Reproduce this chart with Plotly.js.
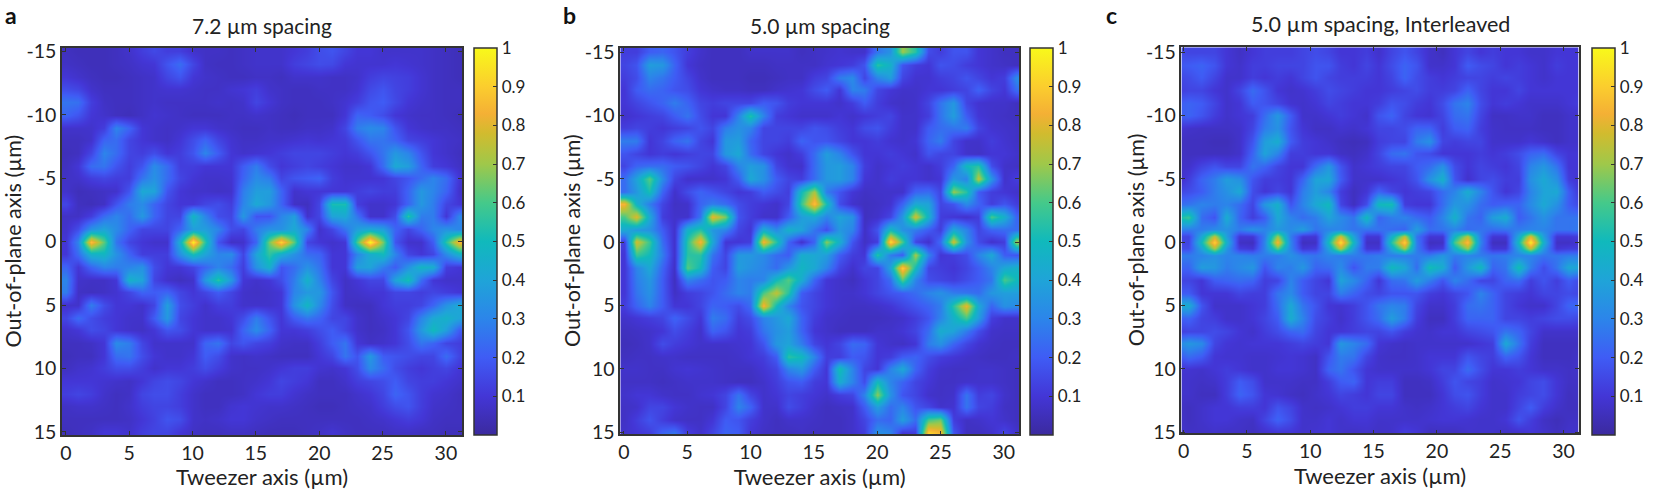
<!DOCTYPE html>
<html>
<head>
<meta charset="utf-8">
<script src="https://cdn.plot.ly/plotly-3.0.1.min.js"></script>
<style>
  html, body { margin: 0; padding: 0; background: #fff; }
  #chart { width: 1657px; height: 490px; }
</style>
</head>
<body>
<div id="chart"></div>
<script>
// intensity in percent on a 1 um grid. rows y = -15..15
const spacing72 = [
  [6,5,5,5,6,8,12,15,12,12,8,7,7,6,7,8,8,8,10,12,16,18,14,10,10,8,8,8,8,7,6,5],
  [7,6,5,5,6,7,9,10,18,24,14,7,6,6,7,8,8,8,12,14,16,15,10,9,9,9,10,9,8,7,6,5],
  [10,8,6,5,5,6,7,8,14,18,10,8,7,6,6,7,7,6,8,8,8,7,7,8,12,14,13,12,9,7,6,5],
  [16,14,8,6,6,6,7,8,9,9,8,7,7,9,10,12,8,7,6,6,7,7,7,9,15,18,14,12,9,7,6,6],
  [26,25,12,7,6,6,7,8,7,7,7,7,8,7,8,14,10,7,6,6,6,7,9,12,18,20,15,10,8,7,6,6],
  [22,18,10,8,6,5,7,9,8,7,6,6,6,7,7,8,7,6,5,6,6,6,10,22,20,16,10,8,7,7,6,5],
  [8,8,8,12,30,22,10,8,7,8,10,10,8,7,6,6,7,6,6,7,7,8,14,28,32,30,18,10,8,7,7,6],
  [6,6,8,22,24,14,10,8,7,10,16,22,14,9,7,7,8,8,9,10,9,10,11,18,26,26,22,14,12,10,8,7],
  [5,6,14,30,24,14,12,16,10,12,18,30,20,10,8,9,10,12,14,14,14,12,10,12,18,26,36,30,18,10,8,6],
  [6,10,24,26,18,12,18,32,24,12,12,10,10,10,20,28,16,10,12,14,12,10,8,8,10,24,42,38,22,12,10,7],
  [7,8,12,14,12,12,26,34,24,14,10,8,8,9,22,32,28,14,18,20,22,12,9,9,9,10,14,18,24,30,24,10],
  [8,5,6,7,8,18,42,40,18,10,8,8,7,8,28,38,38,22,8,10,10,10,10,12,14,12,12,22,36,30,22,8],
  [14,6,5,7,18,28,32,22,14,10,10,14,16,12,30,42,36,22,7,6,14,52,52,12,8,8,10,22,36,28,14,10],
  [7,7,12,24,30,24,36,22,14,14,48,30,16,14,36,18,18,30,38,8,14,40,42,26,8,8,16,55,28,28,10,30],
  [8,16,34,40,32,22,14,14,14,22,38,38,30,16,14,28,34,34,42,30,8,14,26,38,42,38,22,14,22,30,34,30],
  [10,30,88,62,26,14,10,8,8,45,98,55,18,7,8,22,65,92,62,14,10,8,10,60,100,65,18,8,8,20,55,85],
  [10,24,46,48,34,22,12,12,12,34,52,40,30,32,14,40,56,44,34,24,22,10,10,30,44,50,30,14,10,14,32,46],
  [22,10,22,30,28,30,34,16,10,10,14,22,30,24,12,34,46,18,24,34,26,10,10,38,40,28,20,34,48,44,12,10],
  [30,8,7,7,10,46,40,14,8,6,8,36,55,36,10,8,10,16,28,46,30,14,7,10,14,14,40,52,24,10,8,8],
  [28,7,6,7,9,14,22,20,22,14,10,14,20,14,8,7,8,10,30,36,36,18,7,8,10,10,14,14,12,14,12,10],
  [8,8,28,16,10,10,8,14,38,16,12,8,12,12,8,8,8,10,34,48,32,16,7,6,6,10,12,12,14,22,34,42],
  [14,24,16,12,10,8,8,20,36,14,10,8,8,10,16,28,18,10,20,26,22,14,14,8,6,8,10,14,30,42,46,40],
  [8,10,16,14,10,8,7,10,18,16,10,8,8,9,22,32,22,10,10,12,16,20,14,8,6,7,10,18,36,50,38,20],
  [6,6,7,10,32,28,14,8,8,8,8,22,26,14,18,14,12,8,7,7,12,20,26,10,7,8,10,16,26,22,14,12],
  [5,6,6,10,24,26,16,10,8,8,10,20,16,8,7,8,7,6,6,6,10,14,26,18,36,20,18,16,14,14,24,14],
  [6,8,9,12,16,16,12,8,10,10,12,16,12,8,7,7,8,10,12,12,9,8,10,16,32,24,16,12,10,12,14,10],
  [10,10,10,9,8,7,10,14,16,14,10,8,6,6,7,8,10,14,12,10,6,6,8,12,14,16,20,14,12,12,10,8],
  [12,14,12,8,6,7,14,16,16,12,8,6,6,6,7,10,12,12,9,7,6,6,6,8,10,14,22,18,12,9,8,6],
  [7,8,8,7,6,8,12,14,14,12,8,6,6,9,10,9,8,8,7,6,5,5,6,7,8,12,16,18,12,8,7,6],
  [6,6,6,6,6,7,10,13,18,16,8,7,8,10,10,8,7,6,6,6,6,6,6,6,7,8,10,12,10,7,6,6],
  [5,6,7,10,10,8,12,14,14,10,7,6,6,7,7,6,5,5,5,6,7,9,7,6,6,6,7,7,6,6,5,5]
];

const spacing50 = [
  [12,12,20,22,18,12,8,6,6,6,8,8,8,8,6,7,8,9,8,8,26,34,70,55,16,12,18,18,10,8,6,6],
  [14,18,38,36,22,10,7,6,6,6,6,6,7,7,7,7,9,10,12,18,55,46,18,12,10,18,16,12,10,8,7,6],
  [12,16,30,26,20,14,8,6,6,6,5,5,6,7,7,12,14,28,32,14,30,38,14,9,9,12,14,18,14,10,12,32],
  [10,20,24,22,18,16,10,8,7,7,6,6,8,9,10,16,20,10,30,28,14,10,8,8,10,10,12,14,22,14,10,24],
  [10,14,18,22,28,22,14,12,14,14,14,20,18,12,10,10,10,8,12,20,12,8,7,8,14,26,36,14,9,8,8,6],
  [8,10,12,14,20,26,16,10,10,30,54,30,12,10,8,8,8,10,8,10,12,14,8,8,12,26,38,20,10,8,7,6],
  [12,14,12,10,12,14,18,14,28,34,30,14,14,14,14,18,16,12,10,16,18,12,8,8,20,24,26,28,14,9,8,7],
  [28,28,10,14,22,26,14,10,36,38,22,14,14,12,22,18,18,14,10,10,12,9,8,10,22,28,14,8,8,12,9,7],
  [18,14,10,12,10,12,14,14,36,42,24,14,10,8,12,24,38,30,18,10,10,12,10,8,18,14,14,8,7,10,10,8],
  [14,22,24,24,20,18,14,10,14,30,38,34,14,9,8,24,36,38,30,12,8,10,12,10,8,12,22,50,55,16,8,7],
  [24,40,62,32,14,8,8,8,10,20,42,34,20,14,12,24,36,38,30,10,8,12,10,10,8,10,36,30,75,35,8,12],
  [24,36,52,22,8,16,22,18,14,10,12,20,16,12,50,72,28,18,10,7,8,8,8,22,24,14,70,55,20,12,10,8],
  [85,46,28,14,7,8,22,28,24,16,12,10,8,14,58,88,52,16,8,6,7,9,22,42,40,14,18,32,22,12,18,12],
  [60,80,42,12,8,8,26,82,66,18,12,8,8,20,38,42,30,40,34,6,8,14,36,78,46,12,10,8,12,60,45,22],
  [42,36,34,20,8,46,55,36,30,14,10,44,32,46,40,26,16,36,30,7,18,50,34,28,20,12,42,30,14,22,24,24],
  [12,78,58,24,8,55,85,42,10,10,12,85,55,22,8,22,68,45,18,7,12,95,60,14,8,24,78,34,16,8,12,72],
  [10,58,50,28,8,55,55,26,14,36,36,32,24,20,44,42,38,20,12,10,55,28,20,72,30,10,12,16,30,42,20,18],
  [10,30,42,22,7,62,50,20,14,38,34,30,24,36,48,42,30,14,8,14,14,40,92,50,14,12,10,14,20,30,42,46],
  [10,28,36,20,6,30,24,18,20,30,28,30,50,62,44,22,10,8,6,10,14,24,62,30,16,14,12,16,20,26,60,50],
  [10,26,34,20,7,12,14,18,24,30,28,60,75,55,20,14,10,8,8,10,14,18,20,24,30,34,28,26,24,36,38,38],
  [12,22,30,20,10,10,14,22,20,16,24,85,50,30,18,14,10,8,7,7,8,10,14,18,22,28,55,82,42,22,34,32],
  [8,10,12,14,22,16,10,28,24,12,16,30,36,42,22,12,8,7,6,6,6,7,8,12,18,30,46,60,38,12,8,8],
  [6,7,8,10,16,12,8,22,18,10,12,26,34,38,22,10,8,6,6,6,8,8,10,14,24,44,40,28,16,8,7,7],
  [5,6,8,16,12,10,8,8,8,9,10,18,36,40,28,14,10,14,24,22,10,8,7,10,28,34,22,14,9,7,6,6],
  [6,7,7,8,8,7,7,7,7,8,10,12,20,55,50,30,12,12,20,18,10,12,20,22,16,12,10,8,7,6,6,7],
  [8,8,7,7,9,10,9,8,7,7,7,10,14,30,36,20,10,52,30,14,10,30,42,22,12,8,7,7,8,8,7,6],
  [7,7,7,6,7,8,8,8,7,6,6,8,12,18,20,12,10,44,30,16,50,30,22,14,10,7,7,8,8,8,7,6],
  [8,10,10,8,7,7,9,10,14,26,14,8,10,14,12,10,8,12,14,30,68,34,18,14,8,7,8,26,12,14,8,6],
  [7,8,14,14,10,8,7,7,14,30,22,8,8,16,12,8,6,7,8,20,38,24,30,18,14,8,9,26,14,12,7,6],
  [7,12,18,12,8,7,7,10,20,18,12,8,6,8,8,7,6,6,8,14,24,22,38,24,60,65,12,7,8,10,8,6],
  [8,10,12,22,26,12,8,14,22,20,10,7,6,6,7,6,6,6,8,12,34,30,10,12,92,85,18,6,6,8,14,8]
];

// interleaved panel: columns start at x = -0.6 so the peaks sit on a column,
// extra rows at y = -0.5 and 0.5 for the narrow row of peaks
const interleaved = [
  [16,14,14,14,10,7,10,12,12,12,14,16,14,10,10,12,8,14,18,14,8,6,10,14,10,12,10,10,8,8,10,10,10],
  [18,20,22,18,10,8,12,12,14,14,14,18,18,12,10,14,10,16,22,18,8,8,10,20,16,14,10,12,10,8,12,10,10],
  [14,16,20,14,8,8,12,10,12,10,14,18,14,12,12,12,10,14,22,16,12,10,12,14,14,12,14,12,10,8,10,10,10],
  [12,14,14,10,8,14,24,18,10,8,9,12,16,14,12,10,10,12,14,16,12,12,14,22,14,10,10,14,10,10,10,10,10],
  [20,22,20,14,8,10,20,18,14,9,8,10,14,12,10,10,12,18,16,12,10,16,26,30,16,10,12,10,8,8,8,10,12],
  [20,22,18,12,8,10,12,24,36,20,8,8,10,12,10,8,18,22,14,10,9,14,24,26,14,7,7,8,8,6,6,8,8],
  [10,8,7,7,7,8,14,28,34,18,10,7,7,9,8,10,14,14,16,22,22,12,20,22,12,8,7,7,7,6,6,8,8],
  [6,6,6,5,5,8,18,38,44,20,12,10,8,6,5,6,12,14,14,28,34,14,12,14,14,8,8,8,10,8,6,8,8],
  [7,6,6,6,6,8,22,40,30,12,12,10,10,7,6,8,14,24,26,18,16,10,10,10,12,10,12,16,22,24,14,10,10],
  [7,8,14,18,14,14,26,22,14,10,10,24,36,18,8,10,12,14,14,20,24,34,16,10,14,12,10,14,30,36,26,10,10],
  [6,12,22,28,38,34,18,12,12,10,22,40,42,20,8,8,8,10,12,18,34,46,18,8,14,16,12,12,34,42,34,12,8],
  [14,16,20,28,34,42,16,10,14,10,28,38,30,12,6,10,22,14,10,12,14,24,30,44,30,18,10,14,30,40,42,20,8],
  [24,26,30,28,30,24,14,36,46,18,30,42,50,14,6,16,50,52,12,10,10,24,36,34,24,20,22,22,32,42,34,20,14],
  [50,58,24,18,44,22,12,20,42,30,24,28,40,32,26,50,22,28,30,24,20,30,46,26,22,38,44,20,26,34,26,26,26],
  [30,28,28,32,34,28,34,30,36,32,38,26,30,30,26,26,26,24,22,38,24,26,30,24,26,24,26,28,30,30,26,26,28],
  [14,14,42,75,38,10,10,28,70,28,10,10,42,78,40,10,10,45,75,26,10,10,48,74,28,10,10,42,80,38,10,10,12],
  [14,14,50,92,45,7,6,30,85,30,6,7,50,95,48,7,7,55,92,28,6,7,60,88,30,6,6,50,98,45,7,7,10],
  [16,16,40,72,36,12,10,30,62,30,10,12,40,75,38,10,10,42,72,28,10,12,46,70,26,10,10,40,76,36,10,12,12],
  [28,28,30,34,30,30,28,28,28,34,28,26,30,28,28,26,28,28,28,28,28,36,28,30,28,26,28,30,30,26,26,28,28],
  [22,22,38,36,28,32,36,18,30,28,36,22,24,32,18,28,28,50,42,24,52,44,20,36,50,22,26,52,28,16,26,42,40],
  [14,14,10,20,22,24,22,12,14,30,20,14,10,40,32,22,10,24,26,38,28,18,30,24,14,14,22,24,12,18,12,20,14],
  [20,20,10,10,10,14,12,12,26,32,20,14,14,28,22,16,14,18,18,18,12,10,14,18,30,22,14,12,10,14,14,16,14],
  [42,44,18,8,8,8,10,12,24,42,26,18,10,9,12,18,26,30,28,14,8,8,12,24,26,22,14,10,8,8,14,22,24],
  [20,22,14,12,8,8,10,14,20,44,30,16,12,8,12,18,24,38,28,12,6,6,12,22,22,22,14,14,12,14,16,16,14],
  [12,14,14,16,14,10,8,12,16,22,24,14,10,10,12,14,14,18,12,9,8,10,10,14,16,18,26,22,14,8,8,8,8],
  [30,36,32,14,10,9,10,10,10,12,14,12,10,36,30,24,10,8,7,8,8,8,8,8,10,12,42,26,12,6,6,6,6],
  [18,24,20,10,9,9,8,8,9,10,9,7,18,28,26,14,8,7,7,8,10,10,10,18,14,12,22,18,10,6,6,6,8],
  [9,9,8,10,12,10,8,8,10,10,9,7,22,26,18,10,8,8,8,8,10,14,14,24,16,10,10,12,10,8,8,7,8],
  [8,8,7,8,12,20,16,8,8,8,7,7,12,20,22,10,12,12,6,6,7,12,18,14,12,8,9,10,14,16,10,7,7],
  [8,8,6,6,12,22,18,10,9,7,6,8,10,14,12,10,14,14,6,6,6,10,16,18,12,8,8,12,14,16,10,6,7],
  [7,6,8,10,10,12,12,10,18,14,8,7,8,10,12,12,10,10,8,7,8,10,12,14,10,8,8,14,20,12,8,6,6],
  [8,6,8,10,10,8,7,14,22,16,8,8,10,8,10,10,8,8,8,8,9,10,10,9,8,8,10,18,12,7,5,7,7],
  [8,7,7,8,7,7,6,8,10,10,8,9,10,8,7,8,7,8,12,10,6,6,6,8,8,8,7,8,10,8,6,8,8]
];

const rowsFull = [-15,-14,-13,-12,-11,-10,-9,-8,-7,-6,-5,-4,-3,-2,-1,0,1,2,3,4,5,6,7,8,9,10,11,12,13,14,15];
const rowsInterleaved = [-15,-14,-13,-12,-11,-10,-9,-8,-7,-6,-5,-4,-3,-2,-1,-0.5,0,0.5,1,2,3,4,5,6,7,8,9,10,11,12,13,14,15];

const panelTitles = ["7.2 µm spacing", "5.0 µm spacing", "5.0 µm spacing, Interleaved"];
const panelLetters = ["a", "b", "c"];
const xTicks = [0, 5, 10, 15, 20, 25, 30];
const yTicks = [-15, -10, -5, 0, 5, 10, 15];
const yTickText = ["-15", "-10", "-5", "0", "5", "10", "15"];
const barTicks = [0.1, 0.2, 0.3, 0.4, 0.5, 0.6, 0.7, 0.8, 0.9, 1];
const barTickText = ["0.1", "0.2", "0.3", "0.4", "0.5", "0.6", "0.7", "0.8", "0.9", "1"];

// colours sampled from the colour bar
const colorscale = [
  [0.00, "#3b2a9e"], [0.10, "#4336d6"], [0.20, "#3f5cf5"], [0.30, "#2c85ea"],
  [0.40, "#1fa4d8"], [0.50, "#10b9bc"], [0.60, "#45c98a"], [0.70, "#9fc84a"],
  [0.78, "#d2bb2e"], [0.83, "#f4b035"], [0.90, "#fbcd2e"], [1.00, "#f8f91a"]
];

const W = 1657, H = 490;
const textColor = "#222";
const axisColor = "#333";
const font = "Lato, sans-serif";

// pixel boxes of the three panels and their colour bars
const boxes = [
  {left: 62, right: 462, top: 48, bottom: 435, barLeft: 473.5, letterX: 4, titleY: 26, titleSize: 21, yTitleX: 12,
   xRange: [-0.3, 31.27], yRange: [15.25, -15.27]},
  {left: 620.3, right: 1019, top: 47.7, bottom: 434.3, barLeft: 1030, letterX: 562, titleY: 26, titleSize: 21, yTitleX: 572,
   xRange: [-0.28, 31.2], yRange: [15.16, -15.34]},
  {left: 1181.4, right: 1578.8, top: 47.3, bottom: 433.3, barLeft: 1592, letterX: 1105, titleY: 24, titleSize: 21.5, yTitleX: 1136,
   xRange: [-0.17, 31.2], yRange: [15.08, -15.39]}
];
const xStarts = [0, 0, -0.6];
const grids = [spacing72, spacing50, interleaved];
const gridRows = [rowsFull, rowsFull, rowsInterleaved];

const traces = [];
const layout = {
  width: W, height: H,
  margin: {l: 0, r: 0, t: 0, b: 0},
  paper_bgcolor: "white", plot_bgcolor: "white",
  font: {family: font, color: textColor, size: 19.5},
  showlegend: false,
  annotations: []
};

boxes.forEach((box, i) => {
  const id = i === 0 ? "" : String(i + 1);
  traces.push({
    type: "heatmap",
    z: grids[i].map(row => row.map(v => v / 100)),
    x: grids[i][0].map((_, k) => xStarts[i] + k),
    y: gridRows[i],
    xaxis: "x" + id, yaxis: "y" + id,
    zmin: 0, zmax: 1,
    zsmooth: "best",
    colorscale: colorscale,
    hoverinfo: "skip",
    colorbar: {
      x: box.barLeft / W, xanchor: "left", xpad: 0,
      y: 1 - 435 / H, yanchor: "bottom", ypad: 0,
      len: 387 / H, lenmode: "fraction",
      thickness: 23,
      outlinecolor: axisColor, outlinewidth: 1.5,
      tickmode: "array", tickvals: barTicks, ticktext: barTickText,
      ticks: "inside", ticklen: 4, tickcolor: axisColor, tickwidth: 1,
      tickfont: {family: font, size: 17, color: textColor}
    }
  });
  layout["xaxis" + id] = {
    domain: [box.left / W, box.right / W],
    anchor: "y" + id,
    range: box.xRange,
    tickmode: "array", tickvals: xTicks,
    ticks: "inside", ticklen: 4, tickcolor: axisColor,
    showline: true, linecolor: axisColor, linewidth: 1.5, mirror: "ticks",
    showgrid: false, zeroline: false,
    title: {text: "Tweezer axis (µm)", standoff: 4, font: {size: 22, color: textColor}}
  };
  layout["yaxis" + id] = {
    domain: [1 - box.bottom / H, 1 - box.top / H],
    anchor: "x" + id,
    range: box.yRange,
    tickmode: "array", tickvals: yTicks, ticktext: yTickText,
    ticks: "inside", ticklen: 4, tickcolor: axisColor,
    showline: true, linecolor: axisColor, linewidth: 1.5, mirror: "ticks",
    showgrid: false, zeroline: false
  };
  layout.annotations.push({
    text: panelTitles[i], xref: "paper", yref: "paper",
    x: (box.left + box.right) / 2 / W, y: 1 - box.titleY / H,
    xanchor: "center", yanchor: "middle", showarrow: false,
    font: {size: box.titleSize, color: textColor}
  });
  layout.annotations.push({
    text: "<b>" + panelLetters[i] + "</b>", xref: "paper", yref: "paper",
    x: box.letterX / W, y: 1 - 15 / H,
    xanchor: "left", yanchor: "middle", showarrow: false, xshift: -1,
    font: {size: 23, color: "#111"}
  });
  layout.annotations.push({
    text: "Out-of-plane axis (µm)", xref: "paper", yref: "paper",
    x: box.yTitleX / W, y: 1 - (box.top + box.bottom) / 2 / H,
    xanchor: "center", yanchor: "middle", textangle: -90, showarrow: false,
    font: {size: 21.5, color: textColor}
  });
});

Plotly.newPlot("chart", traces, layout, {displayModeBar: false, responsive: false});
</script>
</body>
</html>
